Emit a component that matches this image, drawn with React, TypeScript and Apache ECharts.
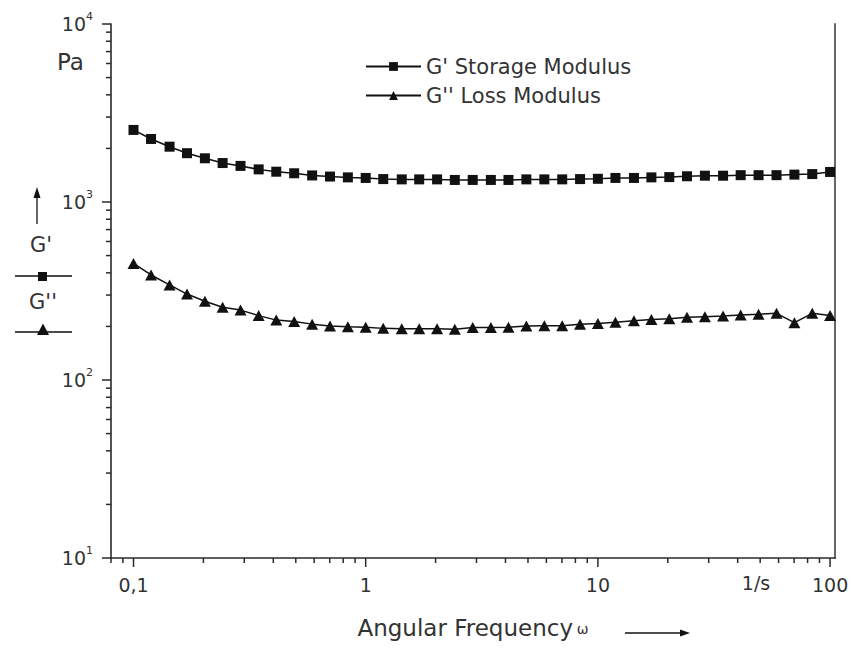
import React, { useEffect, useRef } from "react";
import * as echarts from "echarts";

// Angular frequency ω in 1/s (13 points per decade)
const frequency = [
  0.1, 0.119, 0.143, 0.17, 0.203, 0.242, 0.289, 0.346, 0.412, 0.492, 0.588, 0.702, 0.838,
  1, 1.19, 1.43, 1.7, 2.03, 2.42, 2.89, 3.46, 4.12, 4.92, 5.88, 7.02, 8.38,
  10, 11.9, 14.3, 17, 20.3, 24.2, 28.9, 34.6, 41.2, 49.2, 58.8, 70.2, 83.8,
  100,
];

// G' storage modulus in Pa
const storageModulus = [
  2540, 2260, 2045, 1880, 1760, 1655, 1595, 1525, 1480, 1450, 1410, 1390, 1375,
  1365, 1345, 1340, 1340, 1340, 1330, 1330, 1330, 1330, 1340, 1340, 1340, 1345,
  1350, 1365, 1365, 1375, 1380, 1395, 1405, 1405, 1415, 1415, 1415, 1425, 1435,
  1475,
];

// G'' loss modulus in Pa
const lossModulus = [
  452, 389, 342, 304, 277, 256, 247, 230, 217, 213, 206, 201, 199,
  198, 195, 194, 194, 194, 193, 197, 197, 198, 201, 202, 202, 206,
  208, 211, 215, 219, 221, 225, 227, 229, 232, 234, 237, 210, 237,
  230,
];

// Axis tick positions (log scale: decades and the 2..9 subdivisions)
const xMajorTicks = [0.1, 1, 10, 100];
const xMinorTicks = [
  0.08, 0.09,
  0.2, 0.3, 0.4, 0.5, 0.6, 0.7, 0.8, 0.9,
  2, 3, 4, 5, 6, 7, 8, 9,
  20, 30, 40, 50, 60, 70, 80, 90,
];
const yMajorTicks = [10, 100, 1000, 10000];
const yMinorTicks = [
  20, 30, 40, 50, 60, 70, 80, 90,
  200, 300, 400, 500, 600, 700, 800, 900,
  2000, 3000, 4000, 5000, 6000, 7000, 8000, 9000,
];

const X_MIN = 0.08;
const X_MAX = 105;
const Y_MIN = 10;
const Y_MAX = 10000;

const SERIES_NAMES = ["G' Storage Modulus", "G'' Loss Modulus"];

const FONT = "DejaVu Sans";
const TEXT = "#333";
const INK = "#111";
const AXIS = "#2a2a2a";

function tickSeries(values: number[], dir: "x" | "y", major: boolean) {
  return {
    type: "custom",
    coordinateSystem: "cartesian2d",
    xAxisIndex: 0,
    yAxisIndex: 0,
    silent: true,
    clip: false,
    z: 5,
    data: values.map((v) => (dir === "x" ? [v, Y_MIN] : [X_MIN, v])),
    renderItem: (_params: any, api: any) => {
      const p = api.coord([api.value(0), api.value(1)]);
      const len = major ? 9 : 5;
      const shape =
        dir === "x"
          ? { x1: p[0], y1: p[1], x2: p[0], y2: p[1] + len }
          : { x1: p[0] - len, y1: p[1], x2: p[0], y2: p[1] };
      return { type: "line", shape, style: { stroke: AXIS, lineWidth: 1.5 } };
    },
  };
}

function formatX(v: number) {
  const r = Number(v.toPrecision(6));
  const e = Math.log10(r);
  if (Math.abs(e - Math.round(e)) > 1e-6) return "";
  return String(r).replace(".", ",");
}

function formatY(v: number) {
  const e = Math.round(Math.log10(v));
  return `{b|10}{s|${e}}`;
}

const yLabelRich = {
  b: { fontFamily: FONT, fontSize: 19, color: TEXT, lineHeight: 26 },
  s: { fontFamily: FONT, fontSize: 11, color: TEXT, lineHeight: 20, verticalAlign: "top" },
};

export default function App() {
  const ref = useRef<HTMLDivElement>(null);

  useEffect(() => {
    if (!ref.current) return;
    const chart = echarts.init(ref.current, undefined, { renderer: "svg" });

    const option: any = {
      animation: false,
      backgroundColor: "#ffffff",
      textStyle: { fontFamily: FONT },
      grid: {
        left: 111,
        right: 16,
        top: 24,
        bottom: 95,
        containLabel: false,
        outerBoundsMode: "none",
      },
      legend: {
        data: SERIES_NAMES,
        orient: "vertical",
        left: 360,
        top: 51,
        itemWidth: 55,
        itemHeight: 11,
        itemGap: 8,
        selectedMode: false,
        textStyle: { fontFamily: FONT, fontSize: 21, color: TEXT },
      },
      xAxis: {
        type: "log",
        logBase: 10,
        min: X_MIN,
        max: X_MAX,
        axisLine: { show: true, onZero: false, lineStyle: { color: AXIS, width: 1.6 } },
        axisTick: { show: false },
        minorTick: { show: false },
        splitLine: { show: false },
        axisLabel: {
          show: true,
          showMinLabel: false,
          showMaxLabel: false,
          margin: 17,
          color: TEXT,
          fontFamily: FONT,
          fontSize: 19,
          formatter: formatX,
        },
        name: "{t|Angular Frequency} {w|ω}",
        nameLocation: "middle",
        nameGap: 58,
        nameTextStyle: {
          rich: {
            t: { fontFamily: FONT, fontSize: 23, color: TEXT },
            w: { fontFamily: FONT, fontSize: 14, color: TEXT, padding: [3, 0, 0, 0] },
          },
        },
      },
      yAxis: [
        {
          type: "log",
          logBase: 10,
          min: Y_MIN,
          max: Y_MAX,
          position: "left",
          axisLine: { show: true, onZero: false, lineStyle: { color: AXIS, width: 1.6 } },
          axisTick: { show: false },
          minorTick: { show: false },
          splitLine: { show: false },
          axisLabel: {
            show: true,
            margin: 18,
            formatter: formatY,
            rich: yLabelRich,
          },
        },
        {
          type: "log",
          logBase: 10,
          min: Y_MIN,
          max: Y_MAX,
          position: "right",
          axisLine: { show: true, onZero: false, lineStyle: { color: "#555", width: 1.8 } },
          axisTick: { show: false },
          minorTick: { show: false },
          splitLine: { show: false },
          axisLabel: { show: false },
        },
      ],
      series: [
        {
          name: SERIES_NAMES[0],
          type: "line",
          data: frequency.map((f, i) => [f, storageModulus[i]]),
          symbol: "rect",
          symbolSize: 10,
          lineStyle: { color: INK, width: 1.5 },
          itemStyle: { color: INK },
          z: 3,
        },
        {
          name: SERIES_NAMES[1],
          type: "line",
          data: frequency.map((f, i) => [f, lossModulus[i]]),
          symbol: "triangle",
          symbolSize: [12, 11],
          lineStyle: { color: INK, width: 1.5 },
          itemStyle: { color: INK },
          z: 3,
        },
        tickSeries(xMajorTicks, "x", true),
        tickSeries(xMinorTicks, "x", false),
        tickSeries(yMajorTicks, "y", true),
        tickSeries(yMinorTicks, "y", false),
      ],
      graphic: [
        // unit of the value axis
        {
          type: "text",
          x: 57,
          y: 62,
          style: { text: "Pa", fontFamily: FONT, fontSize: 23, fill: TEXT, align: "left", verticalAlign: "middle" },
        },
        // unit of the frequency axis
        {
          type: "text",
          x: 756,
          y: 583,
          style: { text: "1/s", fontFamily: FONT, fontSize: 19, fill: TEXT, align: "center", verticalAlign: "middle" },
        },
        // direction arrow after the axis title
        { type: "line", shape: { x1: 625, y1: 633, x2: 682, y2: 633 }, style: { stroke: INK, lineWidth: 1.3 } },
        { type: "polygon", shape: { points: [[680, 629.5], [690, 633], [680, 636.5]] }, style: { fill: INK } },
        // side key: upward arrow, G' and G'' with their markers
        { type: "line", shape: { x1: 37, y1: 224, x2: 37, y2: 196 }, style: { stroke: INK, lineWidth: 1.3 } },
        { type: "polygon", shape: { points: [[33.5, 198], [37, 187], [40.5, 198]] }, style: { fill: INK } },
        {
          type: "text",
          x: 41,
          y: 245,
          style: { text: "G'", fontFamily: FONT, fontSize: 21, fill: TEXT, align: "center", verticalAlign: "middle" },
        },
        { type: "line", shape: { x1: 15, y1: 276, x2: 72, y2: 276 }, style: { stroke: INK, lineWidth: 1.3 } },
        { type: "rect", shape: { x: 38, y: 272, width: 9, height: 9 }, style: { fill: INK } },
        {
          type: "text",
          x: 43,
          y: 302,
          style: { text: "G''", fontFamily: FONT, fontSize: 21, fill: TEXT, align: "center", verticalAlign: "middle" },
        },
        { type: "line", shape: { x1: 15, y1: 332, x2: 72, y2: 332 }, style: { stroke: INK, lineWidth: 1.3 } },
        { type: "polygon", shape: { points: [[37, 335], [43, 323.5], [49, 335]] }, style: { fill: INK } },
      ],
    };

    chart.setOption(option);
    return () => {
      chart.dispose();
    };
  }, []);

  return (
    <div
      ref={ref}
      style={{ position: "fixed", left: 0, top: 0, width: 851, height: 653, background: "#fff" }}
    />
  );
}
